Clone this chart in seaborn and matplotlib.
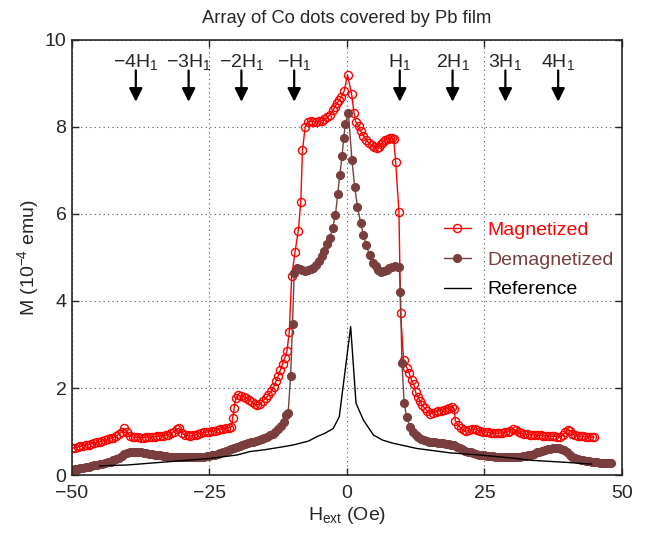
import numpy as np
import pandas as pd
import matplotlib
matplotlib.use('Agg')
import matplotlib.pyplot as plt
import seaborn as sns

# Magnetized sample (open red circles)
mag_h = [-50, -49.5, -49, -48.5, -48, -47.5, -47, -46.5, -46, -45.5, -45, -44.5, -44, -43.5, -43, -42.5,
         -42, -41.5, -41, -40.5, -40, -39.5, -39, -38.5, -38, -37.5, -37, -36.5, -36, -35.5, -35, -34.5,
         -34, -33.5, -33, -32.5, -32, -31.5, -31, -30.5, -30, -29.5, -29, -28.5, -28, -27.5, -27, -26.5,
         -26, -25.5, -25, -24.5, -24, -23.5, -23, -22.5, -22, -21.5, -21,
         -20.8, -20.5, -20.2, -19.8, -19.3, -18.8, -18.3, -17.8, -17.3, -16.8, -16.3, -15.8, -15.3, -14.8,
         -14.3, -13.8, -13.3, -12.9, -12.5, -12.1, -11.7, -11.3, -10.9, -10.5, -10.05, -9.45, -8.85, -8.4,
         -8.1, -7.6, -7.1, -6.6, -6.1, -5.6, -5.1, -4.6, -4.1, -3.6, -3.1, -2.6, -2.2, -1.8, -1.4, -1.0,
         -0.5, 0.1, 0.85, 1.27, 1.6, 2.1, 2.5, 3.0, 3.5, 4.0, 4.5, 5.0, 5.4, 5.8, 6.2, 6.6, 7.0, 7.4, 7.8,
         8.1, 8.5, 8.85, 9.45, 9.75, 10.3, 10.9, 11.3, 11.75, 12.1, 12.5, 12.9, 13.3, 13.7, 14.2, 14.6,
         15.1, 15.6, 16.1, 16.6, 17.1, 17.6, 18.1, 18.6, 19.1, 19.5, 19.7, 20.2, 20.7, 21.2, 21.7, 22.2,
         22.7, 23.2, 23.7, 24.2, 24.7, 25.2, 25.7, 26.2, 26.7, 27.2, 27.7, 28.2, 28.7, 29.2, 29.7, 30.2,
         30.7, 31.2, 31.7, 32.2, 32.7, 33.2, 33.7, 34.2, 34.7, 35.2, 35.7, 36.2, 36.7, 37.2, 37.7, 38.2,
         38.7, 39.2, 39.7, 40.2, 40.6, 41.0, 41.5, 42.0, 42.5, 43.0, 43.5, 44.0, 44.5, 44.9]
mag_m = [0.61, 0.63, 0.64, 0.66, 0.67, 0.69, 0.70, 0.72, 0.73, 0.75, 0.76, 0.78, 0.80, 0.82, 0.84, 0.86,
         0.89, 0.94, 0.99, 1.07, 0.98, 0.90, 0.88, 0.87, 0.87, 0.86, 0.86, 0.87, 0.87, 0.88, 0.88, 0.89,
         0.90, 0.90, 0.91, 0.93, 0.96, 1.00, 1.05, 1.08, 0.96, 0.92, 0.91, 0.90, 0.91, 0.92, 0.94, 0.96,
         0.98, 0.99, 1.00, 1.01, 1.02, 1.04, 1.05, 1.06, 1.07, 1.09, 1.11,
         1.30, 1.55, 1.78, 1.83, 1.82, 1.80, 1.77, 1.73, 1.68, 1.63, 1.61, 1.64, 1.70, 1.76,
         1.83, 1.92, 2.03, 2.15, 2.28, 2.42, 2.56, 2.70, 2.86, 3.28, 4.57, 5.13, 5.62, 6.28,
         7.46, 8.00, 8.12, 8.13, 8.12, 8.12, 8.13, 8.14, 8.18, 8.22, 8.28, 8.38, 8.46, 8.55, 8.62, 8.70,
         8.83, 9.20, 8.75, 8.33, 8.12, 8.03, 7.90, 7.80, 7.70, 7.63, 7.58, 7.53, 7.51, 7.55, 7.60, 7.66, 7.70,
         7.73, 7.75, 7.74, 7.72, 7.19, 6.05, 3.72, 2.64, 2.46, 2.34, 2.18, 2.10, 1.90, 1.80, 1.69, 1.60,
         1.53, 1.46, 1.41, 1.43, 1.45, 1.47, 1.48, 1.50, 1.52, 1.54, 1.56, 1.52, 1.25, 1.15, 1.08, 1.03,
         1.01, 1.03, 1.05, 1.05, 1.03, 1.01, 1.00, 0.99, 0.98, 0.97, 0.96, 0.96, 0.96, 0.97, 0.98, 0.99,
         1.02, 1.05, 1.03, 0.99, 0.96, 0.95, 0.94, 0.93, 0.92, 0.92, 0.91, 0.91, 0.90, 0.90, 0.90, 0.89,
         0.89, 0.88, 0.88, 0.92, 0.98, 1.03, 1.02, 0.95, 0.91, 0.90, 0.89, 0.89, 0.88, 0.88, 0.87, 0.87]

# Demagnetized sample (filled brown circles)
dem_h = [-50, -49.5, -49, -48.5, -48, -47.5, -47, -46.5, -46, -45.5, -45, -44.5, -44, -43.5, -43, -42.5,
         -42, -41.5, -41, -40.5, -40, -39.5, -39, -38.5, -38, -37.5, -37, -36.5, -36, -35.5, -35, -34.5,
         -34, -33.5, -33, -32.5, -32, -31.5, -31, -30.5, -30, -29.5, -29, -28.5, -28, -27.5, -27, -26.5,
         -26, -25.5, -25, -24.5, -24, -23.5, -23, -22.5, -22, -21.5, -21, -20.5, -20, -19.5, -19, -18.5,
         -18, -17.5, -17, -16.5, -16, -15.5, -15, -14.5, -14, -13.5, -13, -12.5, -12, -11.5, -11, -10.7,
         -10.25, -9.9, -9.6, -9.1, -8.6, -8.1, -7.6, -7.1, -6.6, -6.1, -5.6, -5.1, -4.6, -4.1, -3.6, -3.1,
         -2.6, -2.1, -1.7, -1.3, -0.9, -0.6, -0.3, 0.25, 0.9, 1.4, 1.9, 2.5, 3.0, 3.5, 4.1, 4.7, 5.2, 5.7,
         6.2, 6.7, 7.2, 7.7, 8.2, 8.7, 9.2, 9.5, 9.7, 10.0, 10.4, 10.85, 11.45, 12.0, 12.5, 13.0, 13.5,
         14.0, 14.5, 15, 15.5, 16, 16.5, 17, 17.5, 18, 18.5, 19, 19.5, 20, 20.5, 21, 21.5, 22, 22.5, 23,
         23.5, 24, 24.5, 25, 25.5, 26, 26.5, 27, 27.5, 28, 28.5, 29, 29.5, 30, 30.5, 31, 31.5, 32, 32.5,
         33, 33.5, 34, 34.5, 35, 35.5, 36, 36.5, 37, 37.5, 38, 38.5, 39, 39.5, 40, 40.5, 41, 41.5, 42,
         42.5, 43, 43.5, 44, 44.5, 45, 45.5, 46, 46.5, 47, 47.5, 48]
dem_m = [0.12, 0.13, 0.14, 0.15, 0.16, 0.18, 0.19, 0.21, 0.22, 0.23, 0.25, 0.26, 0.28, 0.29, 0.31, 0.34,
         0.37, 0.40, 0.44, 0.48, 0.51, 0.53, 0.54, 0.54, 0.53, 0.52, 0.51, 0.50, 0.49, 0.48, 0.47, 0.46,
         0.45, 0.44, 0.43, 0.42, 0.42, 0.41, 0.41, 0.41, 0.41, 0.41, 0.41, 0.41, 0.41, 0.42, 0.42, 0.42,
         0.42, 0.43, 0.44, 0.45, 0.47, 0.49, 0.51, 0.53, 0.56, 0.58, 0.60, 0.62, 0.64, 0.66, 0.69, 0.71,
         0.73, 0.75, 0.77, 0.79, 0.81, 0.83, 0.86, 0.88, 0.91, 0.95, 0.99, 1.05, 1.12, 1.22, 1.38, 1.42,
         2.28, 3.47, 4.64, 4.75, 4.74, 4.72, 4.70, 4.71, 4.73, 4.76, 4.83, 4.92, 5.03, 5.15, 5.30, 5.44,
         5.68, 5.98, 6.45, 6.90, 7.33, 7.74, 8.08, 8.33, 7.24, 6.63, 6.17, 5.79, 5.52, 5.29, 5.06, 4.88, 4.80, 4.72,
         4.67, 4.68, 4.72, 4.76, 4.79, 4.80, 4.79, 4.78, 4.21, 2.57, 1.65, 1.33, 1.11, 0.99, 0.93, 0.88, 0.83,
         0.80, 0.79, 0.77, 0.76, 0.75, 0.74, 0.74, 0.73, 0.72, 0.71, 0.70, 0.68, 0.65, 0.62, 0.59, 0.56, 0.54, 0.52, 0.50,
         0.48, 0.47, 0.46, 0.45, 0.44, 0.43, 0.43, 0.42, 0.42, 0.42, 0.41, 0.41, 0.41, 0.41, 0.41, 0.42, 0.42, 0.43, 0.44,
         0.45, 0.47, 0.49, 0.52, 0.54, 0.56, 0.58, 0.59, 0.60, 0.61, 0.61, 0.61, 0.60, 0.58, 0.52, 0.46, 0.42, 0.39, 0.37,
         0.35, 0.34, 0.33, 0.32, 0.31, 0.30, 0.29, 0.28, 0.28, 0.27, 0.27, 0.27]

# Reference sample (plain black line)
ref_h = [-45, -43, -40, -37, -35, -30, -25, -20, -17.6, -15, -11.6, -9.8, -7, -5.5, -4, -2.5, -1.4,
         0.67, 1.64, 3, 4.8, 6.5, 8.4, 12.7, 15.1, 18.7, 24.2, 30, 33.3, 40, 44.5]
ref_m = [0.21, 0.22, 0.23, 0.26, 0.28, 0.33, 0.38, 0.46, 0.54, 0.58, 0.65, 0.69, 0.78, 0.88, 0.96, 1.07, 1.34,
         3.41, 1.65, 1.26, 0.92, 0.80, 0.73, 0.61, 0.57, 0.51, 0.46, 0.39, 0.34, 0.29, 0.25]

# matching field markers, multiples of H1
h1 = 9.6
h1_mult = [-4, -3, -2, -1, 1, 2, 3, 4]
h1_labels = [r'$-4H_1$', r'$-3H_1$', r'$-2H_1$', r'$-H_1$', r'$H_1$', r'$2H_1$', r'$3H_1$', r'$4H_1$']

red = '#ff0000'
brown = '#7a3e3e'

sns.set_style('ticks')
plt.rcParams['font.family'] = ['Liberation Sans', 'DejaVu Sans']
plt.rcParams['mathtext.default'] = 'regular'
plt.rcParams['axes.linewidth'] = 1.2
plt.rcParams['xtick.direction'] = 'in'
plt.rcParams['ytick.direction'] = 'in'

fig = plt.figure(figsize=(6.47, 5.33), dpi=100)
ax = fig.add_axes([0.1113, 0.1088, 0.85, 0.8162])

sns.lineplot(x=mag_h, y=mag_m, ax=ax, sort=False, estimator=None, color=red, lw=1,
             marker='o', markersize=5.8, markerfacecolor='none', markeredgecolor=red,
             markeredgewidth=1, label='Magnetized')
sns.lineplot(x=dem_h, y=dem_m, ax=ax, sort=False, estimator=None, color=brown, lw=1,
             marker='o', markersize=5.8, markerfacecolor=brown, markeredgecolor=brown,
             label='Demagnetized')
sns.lineplot(x=ref_h, y=ref_m, ax=ax, sort=False, estimator=None, color='black', lw=1,
             label='Reference')

for k, lab in zip(h1_mult, h1_labels):
    xh = k * h1
    ax.annotate('', xy=(xh, 8.58), xytext=(xh, 9.3),
                arrowprops=dict(arrowstyle='-|>', color='black', lw=1.6, mutation_scale=20,
                                shrinkA=0, shrinkB=0))
    ax.text(xh, 9.38, lab, ha='center', va='baseline', fontsize=14)

ax.set_xlim(-50, 50)
ax.set_ylim(0, 10)
ax.set_xticks([-50, -25, 0, 25, 50])
ax.set_yticks([0, 2, 4, 6, 8, 10])
ax.tick_params(axis='both', which='both', top=True, right=True, labelsize=14, length=5, width=1)
ax.tick_params(axis='x', pad=7)
ax.tick_params(axis='y', pad=4)
ax.grid(True, linestyle=(0, (1, 3)), color='#555555', linewidth=0.8)

ax.set_xlabel(r'$H_{ext}$ (Oe)', fontsize=14, labelpad=2)
ax.set_ylabel(r'M (10$^{-4}$ emu)', fontsize=14, labelpad=3)
ax.set_title('Array of Co dots covered by Pb film', fontsize=13.2, pad=12)

leg = ax.legend(loc='upper left', bbox_to_anchor=(0.658, 0.605), frameon=False, fontsize=14,
                handlelength=1.4, handletextpad=0.85, labelspacing=0.62, borderpad=0)
for txt, col in zip(leg.get_texts(), [red, brown, 'black']):
    txt.set_color(col)

fig.savefig('out.png', dpi=100)
